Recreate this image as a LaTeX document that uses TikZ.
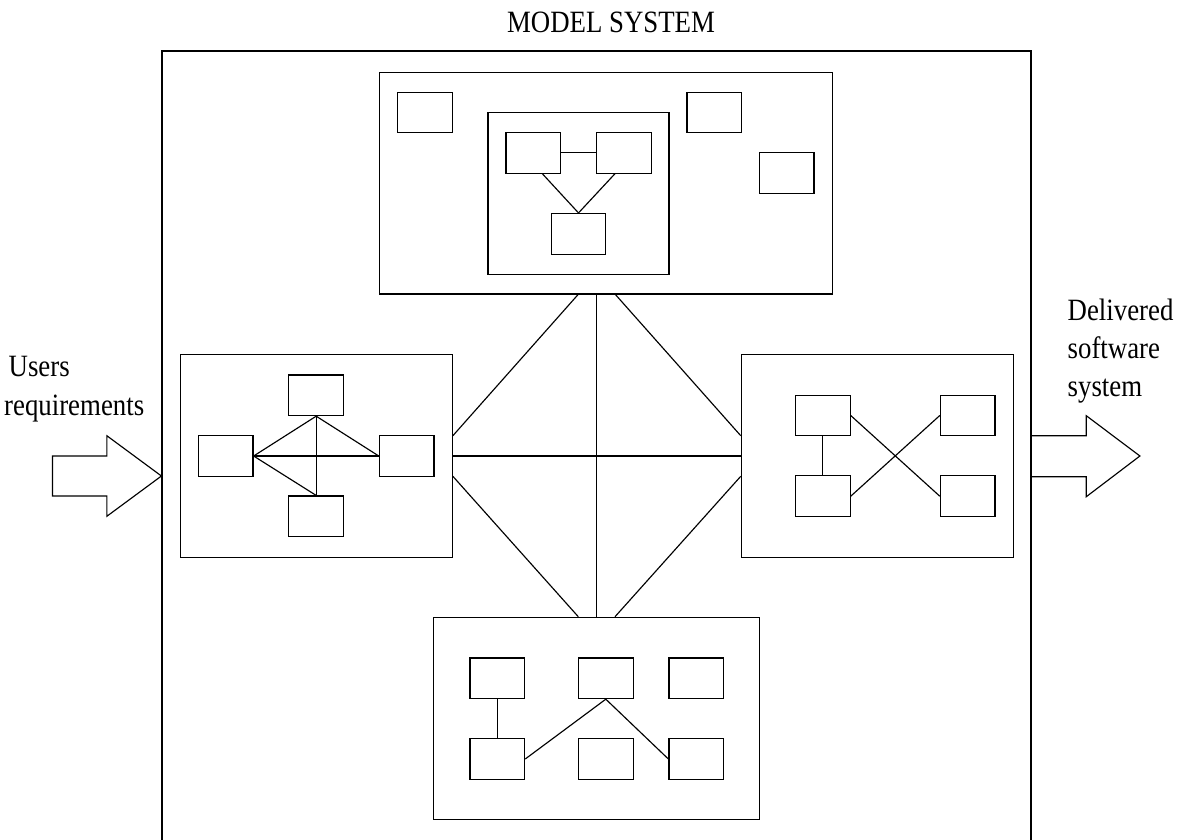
\documentclass[tikz,border=0pt]{standalone}
\usepackage{fontspec}
\setmainfont{Liberation Serif}[FakeStretch=0.865]
\usetikzlibrary{calc}
\tikzset{
  every picture/.style={x=1pt,y=-1pt},
  ln/.style={line width=1.15pt, draw=black},
  frame/.style={ln, rectangle, inner sep=0pt, fill=white},
  sbox/.style={frame, minimum width=54.7pt, minimum height=40.6pt},
  lbl/.style={inner sep=0pt, anchor=base west, font=\fontsize{31}{38}\selectfont},
}
\begin{document}
\begin{tikzpicture}
\useasboundingbox (0,0) rectangle (1185,839);

% enclosing system frame (runs off the bottom edge)
\node[frame, minimum width=869pt, minimum height=809pt] (model) at (596.5,455.5) {};
\node[inner sep=0pt, anchor=base, font=\fontsize{31}{38}\selectfont] (title) at (611,32.3) {MODEL SYSTEM};

% four subsystems
\node[frame, minimum width=453pt, minimum height=221.7pt] (T) at (605.8,183.2) {};
\node[frame, minimum width=272pt, minimum height=202.6pt] (L) at (316.3,456) {};
\node[frame, minimum width=272pt, minimum height=202.6pt] (R) at (877.3,456) {};
\node[frame, minimum width=326.4pt, minimum height=202.4pt] (B) at (596.5,718.5) {};

% links between subsystems
\draw[ln] ([xshift=-27.8pt]T.south) -- ([yshift=20.3pt]L.east);
\draw[ln] (B.north |- T.south) -- (B.north);
\draw[ln] ([xshift=9.7pt]T.south) -- ([yshift=20.3pt]R.west);
\draw[ln] (L.east) -- (R.west);
\draw[ln] ([yshift=-20.3pt]L.east) -- ([xshift=-18.2pt]B.north);
\draw[ln] ([yshift=-20.3pt]R.west) -- ([xshift=18.5pt]B.north);

% top subsystem contents
\node[sbox] (ta) at (424.8,112.5) {};
\node[sbox] (tc) at (714.3,112.5) {};
\node[sbox] (td) at (786.7,173) {};
\node[frame, minimum width=181pt, minimum height=162pt] (tin) at (578.5,193.3) {};
\node[sbox] (tb1) at (533.3,152.8) {};
\node[sbox] (tb2) at (623.8,152.8) {};
\node[sbox] (tb3) at (578.5,233.8) {};
\draw[ln] (tb1.east) -- (tb2.west);
\draw[ln] ([xshift=9pt]tb1.south) -- (tb3.north);
\draw[ln] ([xshift=-8.8pt]tb2.south) -- (tb3.north);

% left subsystem contents
\node[sbox] (la) at (316.2,395.3) {};
\node[sbox] (lb) at (225.7,456) {};
\node[sbox] (lc) at (406.7,456) {};
\node[sbox] (ld) at (316.2,516.3) {};
\draw[ln] (la.south) -- (lb.east);
\draw[ln] (la.south) -- (lc.west);
\draw[ln] (la.south) -- (ld.north);
\draw[ln] (lb.east) -- (lc.west);
\draw[ln] (lb.east) -- (ld.north);

% right subsystem contents
\node[sbox] (ra) at (822.8,415.5) {};
\node[sbox] (rb) at (822.8,496.2) {};
\node[sbox] (rc) at (967.7,415.5) {};
\node[sbox] (rd) at (967.7,496.2) {};
\draw[ln] (ra.south) -- (rb.north);
\draw[ln] (ra.east) -- (rd.west);
\draw[ln] (rb.east) -- (rc.west);

% bottom subsystem contents
\node[sbox] (b11) at (497.3,678.3) {};
\node[sbox] (b12) at (605.8,678.3) {};
\node[sbox] (b13) at (696.3,678.3) {};
\node[sbox] (b21) at (497.3,759) {};
\node[sbox] (b22) at (605.8,759) {};
\node[sbox] (b23) at (696.3,759) {};
\draw[ln] (b11.south) -- (b21.north);
\draw[ln] (b21.east) -- (b12.south);
\draw[ln] (b12.south) -- (b23.west);

% input arrow
\coordinate (uin) at ([yshift=-20.5pt]model.west);
\draw[ln, line join=miter] (uin) -- ++(-54.6,-40.3) -- ++(0,20.3) -- ++(-54.4,0)
  -- ++(0,40) -- ++(54.4,0) -- ++(0,20.3) -- cycle;
\node[lbl] (u1) at (8.5,376) {Users};
\node[lbl] (u2) at (4,415) {requirements};

% output arrow
\coordinate (sout) at ([yshift=19.8pt]model.east);
\draw[ln, line join=miter] (sout) -- ++(54.7,0) -- ++(0,-20) -- ++(53.6,40.3)
  -- ++(-53.6,40.7) -- ++(0,-20) -- ++(-54.7,0);
\node[lbl] (d1) at (1067.5,320) {Delivered};
\node[lbl] (d2) at (1067.5,358) {software};
\node[lbl] (d3) at (1067.5,396) {system};
\end{tikzpicture}
\end{document}
